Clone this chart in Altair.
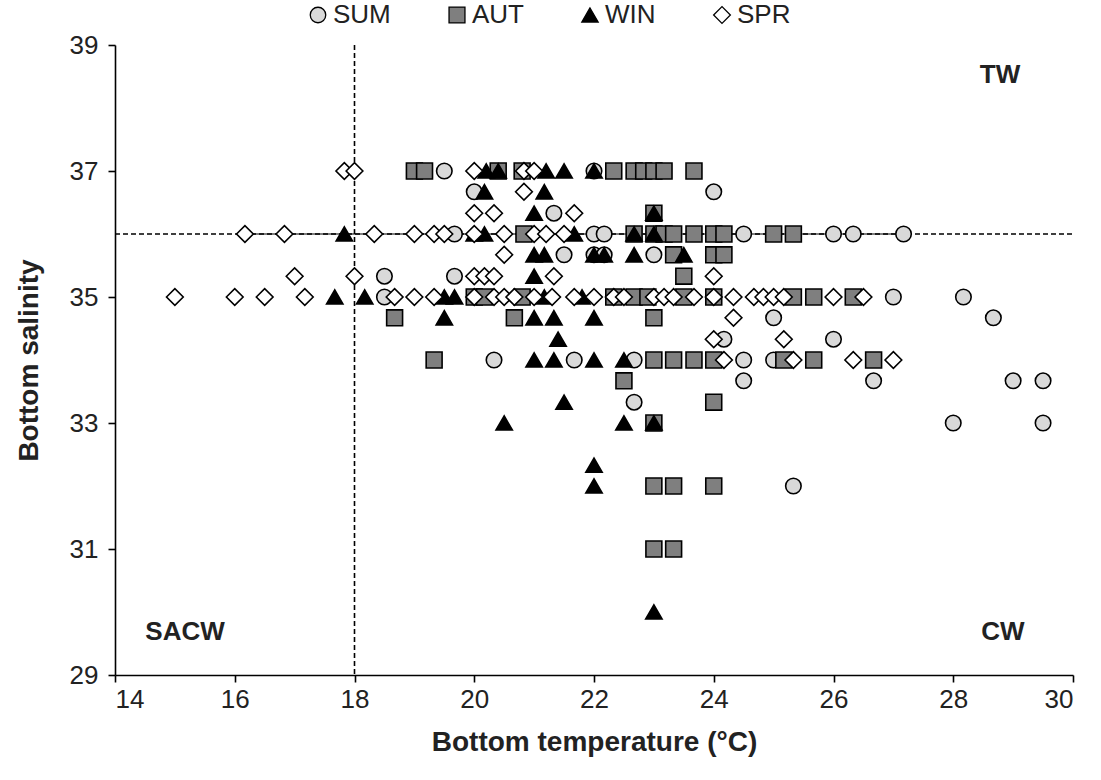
import altair as alt
import pandas as pd

seasons = ["SUM", "AUT", "WIN", "SPR"]
shapes = ["circle", "square", "triangle-up", "diamond"]
fills = ["#d9d9d9", "#7f7f7f", "#000000", "#ffffff"]
sizes = [240, 280, 260, 360]

# SUM (circles)
sum_T = [19.5, 22.0, 20.0, 24.0, 21.33, 19.67, 22.0, 22.17, 24.5, 26.0, 26.33, 27.17,
         21.5, 22.0, 22.17, 23.0, 18.5, 19.67, 18.5, 27.0, 28.17, 25.0, 28.67,
         24.17, 26.0, 20.33, 21.67, 22.67, 24.5, 25.0, 24.5, 26.67, 29.0, 29.5,
         22.67, 28.0, 29.5, 25.33]
sum_S = [37, 37, 36.67, 36.67, 36.33, 36, 36, 36, 36, 36, 36, 36,
         35.67, 35.67, 35.67, 35.67, 35.33, 35.33, 35, 35, 35, 34.67, 34.67,
         34.33, 34.33, 34, 34, 34, 34, 34, 33.67, 33.67, 33.67, 33.67,
         33.33, 33, 33, 32]

# AUT (squares)
aut_T = [19.0, 19.17, 20.4, 20.8, 22.33, 22.67, 22.83, 23.0, 23.17, 23.67,
         23.0,
         20.83, 22.67, 23.0, 23.17, 23.33, 23.67, 24.0, 24.17, 25.0, 25.33,
         23.33, 24.0, 24.17,
         23.5,
         20.0, 20.17, 20.8, 22.33, 22.67, 22.9, 23.5, 24.0, 25.33, 25.67, 26.33,
         18.67, 20.67, 23.0,
         19.33, 23.0, 23.33, 23.67, 24.0, 25.17, 25.67, 26.67,
         22.5, 24.0, 23.0, 23.0, 23.33, 24.0, 23.0, 23.33]
aut_S = [37, 37, 37, 37, 37, 37, 37, 37, 37, 37,
         36.33,
         36, 36, 36, 36, 36, 36, 36, 36, 36, 36,
         35.67, 35.67, 35.67,
         35.33,
         35, 35, 35, 35, 35, 35, 35, 35, 35, 35, 35,
         34.67, 34.67, 34.67,
         34, 34, 34, 34, 34, 34, 34, 34,
         33.67, 33.33, 33, 32, 32, 32, 31, 31]

# WIN (triangles)
win_T = [20.2, 20.4, 21.2, 21.5, 22.0,
         20.17, 21.17,
         21.0, 23.0,
         17.83, 20.0, 20.17, 21.67, 22.67, 23.0,
         21.0, 21.17, 22.0, 22.17, 22.67, 23.5,
         21.0,
         17.67, 18.17, 19.5, 19.67, 21.17, 21.8,
         19.5, 21.0, 21.33, 22.0,
         21.4,
         21.0, 21.33, 22.0, 22.5,
         21.5, 20.5, 22.5, 23.0, 22.0, 22.0, 23.0]
win_S = [37, 37, 37, 37, 37,
         36.67, 36.67,
         36.33, 36.33,
         36, 36, 36, 36, 36, 36,
         35.67, 35.67, 35.67, 35.67, 35.67, 35.67,
         35.33,
         35, 35, 35, 35, 35, 35,
         34.67, 34.67, 34.67, 34.67,
         34.33,
         34, 34, 34, 34,
         33.33, 33, 33, 33, 32.33, 32, 30]

# SPR (diamonds)
spr_T = [17.83, 18.0, 20.0, 20.83, 21.0,
         20.83,
         20.0, 20.33, 21.67,
         16.17, 16.83, 18.33, 19.0, 19.33, 19.5, 20.0, 20.5, 21.0, 21.2, 21.5,
         20.5,
         17.0, 18.0, 20.0, 20.17, 20.33, 21.33, 24.0,
         15.0, 16.0, 16.5, 17.17, 18.67, 19.0, 19.33, 20.0, 20.33, 20.5, 20.67,
         21.0, 21.3, 21.67, 22.0, 22.33, 22.5, 23.0, 23.17, 23.33, 23.67, 24.0,
         24.33, 24.67, 24.83, 25.0, 25.17, 26.0, 26.5,
         24.33,
         24.0, 25.17,
         24.17, 25.33, 26.33, 27.0]
spr_S = [37, 37, 37, 37, 37,
         36.67,
         36.33, 36.33, 36.33,
         36, 36, 36, 36, 36, 36, 36, 36, 36, 36, 36,
         35.67,
         35.33, 35.33, 35.33, 35.33, 35.33, 35.33, 35.33,
         35, 35, 35, 35, 35, 35, 35, 35, 35, 35, 35,
         35, 35, 35, 35, 35, 35, 35, 35, 35, 35, 35,
         35, 35, 35, 35, 35, 35, 35,
         34.67,
         34.33, 34.33,
         34, 34, 34, 34]

x_ticks = [14, 16, 18, 20, 22, 24, 26, 28, 30]
y_ticks = [29, 31, 33, 35, 37, 39]

labels = ["TW", "SACW", "CW"]
label_T = [28.78, 15.17, 28.83]
label_S = [38.52, 29.68, 29.68]

rows = []
for name, ts, ss in [("SUM", sum_T, sum_S), ("AUT", aut_T, aut_S),
                     ("WIN", win_T, win_S), ("SPR", spr_T, spr_S)]:
    for t, s in zip(ts, ss):
        rows.append({"T": t, "S": s, "season": name})
df = pd.DataFrame(rows)
df["ord"] = range(len(df))

lab_df = pd.DataFrame({"T": label_T, "S": label_S, "txt": labels})

xs = alt.Scale(domain=[14, 30], nice=False, zero=False)
ys = alt.Scale(domain=[29, 39], nice=False, zero=False)

font = "Liberation Sans"

points = alt.Chart(df).mark_point(filled=True, opacity=1, stroke="black",
                                  strokeWidth=1.6).encode(
    x=alt.X("T:Q", scale=xs, axis=alt.Axis(values=x_ticks, title="Bottom temperature (°C)",
                                          format="d")),
    y=alt.Y("S:Q", scale=ys, axis=alt.Axis(values=y_ticks, title="Bottom salinity",
                                          format="d", labelPadding=10)),
    shape=alt.Shape("season:N", scale=alt.Scale(domain=seasons, range=shapes),
                    legend=alt.Legend(title=None, orient="none", direction="horizontal",
                                      columns=4, legendX=190, legendY=-43,
                                      columnPadding=53, labelFontSize=26,
                                      labelFont=font, labelColor="#222222",
                                      symbolStrokeColor="black", symbolStrokeWidth=1.3,
                                      labelOffset=2)),
    fill=alt.Fill("season:N", scale=alt.Scale(domain=seasons, range=fills)),
    size=alt.Size("season:N", scale=alt.Scale(domain=seasons, range=sizes)),
    order=alt.Order("ord:Q"),
)

hline = alt.Chart(pd.DataFrame({"S": [36]})).mark_rule(
    color="black", strokeWidth=1.6, strokeDash=[5, 3]).encode(
    y=alt.Y("S:Q", scale=ys), x=alt.value(0), x2=alt.value(958))

hsolid = alt.Chart(pd.DataFrame({"S": [36], "T1": [16.17], "T2": [27.17]})).mark_rule(
    color="black", strokeWidth=1.2).encode(
    y=alt.Y("S:Q", scale=ys), x=alt.X("T1:Q", scale=xs), x2="T2:Q")

vline = alt.Chart(pd.DataFrame({"T": [18]})).mark_rule(
    color="black", strokeWidth=1.6, strokeDash=[5, 3]).encode(
    x=alt.X("T:Q", scale=xs), y=alt.value(0), y2=alt.value(630))

texts = alt.Chart(lab_df).mark_text(fontSize=26, fontWeight="bold", font=font,
                                    color="#222222").encode(
    x=alt.X("T:Q", scale=xs), y=alt.Y("S:Q", scale=ys), text="txt:N")

chart = alt.layer(hline, hsolid, vline, points, texts).properties(
    width=958, height=630,
    autosize=alt.AutoSizeParams(type="none"),
    padding={"left": 115, "top": 45, "right": 28, "bottom": 105},
).configure_view(stroke=None).configure_axis(
    grid=False, domainColor="black", domainWidth=1.6, tickColor="black",
    tickWidth=1.6, tickSize=7, labelFontSize=26, labelFont=font,
    labelColor="#222222", titleFont=font, titleFontSize=28, titleFontWeight="bold",
    titleColor="#222222", labelPadding=4,
).configure_axisX(titlePadding=16).configure_axisY(titlePadding=26)

chart.save("out.html", embed_options={"renderer": "svg", "actions": False})
